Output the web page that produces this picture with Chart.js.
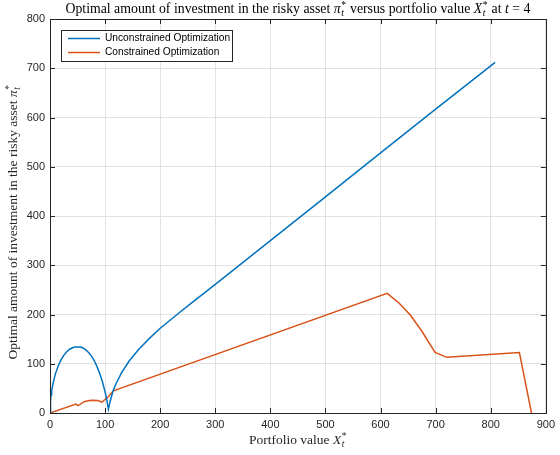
<!DOCTYPE html>
<html>
<head>
<meta charset="utf-8">
<script src="https://cdn.jsdelivr.net/npm/chart.js@4.4.0/dist/chart.umd.min.js"></script>
<style>
  body { margin: 0; background: #fff; }
  canvas { display: block; }
</style>
</head>
<body>
<canvas id="pi-chart" width="560" height="455"></canvas>
<script>
// Portfolio value X_t* and optimal amount in the risky asset pi_t*
const unconX = [0, 1, 2, 3, 5, 7, 10, 15, 20, 25, 30, 35, 40, 45, 50, 55, 60, 65, 70, 75, 80, 85, 90, 95, 100, 103, 106,
  108, 110, 114, 120, 130, 144, 160, 180, 200, 234, 260, 300, 400, 500, 600, 700, 808];
const unconY = [0, 27, 37, 45, 57, 67, 80, 96, 108, 117, 124, 129, 132, 134, 134, 134, 132, 128, 123, 116, 107, 95, 81, 64, 43, 27, 8,
  18, 27, 43, 60, 82, 106, 128, 151, 172, 203, 226, 261, 350, 439, 528, 617, 712];

const conX = [0, 47, 51, 63, 75, 87, 94, 105, 115, 612, 633, 654, 675, 699, 720, 852, 874];
const conY = [0, 18, 15, 23.5, 26, 25.5, 22, 32, 45, 243, 224, 199, 166, 123, 113, 123, 0];

const xTicks = [0, 100, 200, 300, 400, 500, 600, 700, 800, 900];
const yTicks = [0, 100, 200, 300, 400, 500, 600, 700, 800];

const seriesNames = ['Unconstrained Optimization', 'Constrained Optimization'];
const seriesColors = ['#0072BD', '#D95319'];

const SERIF = '"Liberation Serif", "DejaVu Serif", serif';
const SANS = '"Liberation Sans", Arial, sans-serif';
const AXIS_COLOR = '#262626';

// text pieces: plain strings, or [symbol, subscript, superscript] in math italics
const titleParts = ['Optimal amount of investment in the risky asset ', ['π', 't', '*'],
  ' versus portfolio value ', ['X', 't', '*'], ' at ', ['t'], ' = 4'];
const xLabelParts = ['Portfolio value ', ['X', 't', '*']];
const yLabelParts = ['Optimal amount of investment in the risky asset ', ['π', 't', '*']];

function toPoints(xs, ys) {
  return xs.map((x, i) => ({ x: x, y: ys[i] }));
}

function partWidth(ctx, p, size) {
  if (typeof p === 'string') {
    ctx.font = size + 'px ' + SERIF;
    return ctx.measureText(p).width;
  }
  ctx.font = 'italic ' + size + 'px ' + SERIF;
  let w = ctx.measureText(p[0]).width;
  if (p.length > 1) {
    ctx.font = 'italic ' + (size * 0.7) + 'px ' + SERIF;
    const a = ctx.measureText(p[1]).width;
    ctx.font = (size * 0.7) + 'px ' + SERIF;
    const b = p[2] ? ctx.measureText(p[2]).width : 0;
    w += Math.max(a, b) + size * 0.08;
  }
  return w;
}

// draws the pieces centred on (cx, y), y being the baseline
function drawRich(ctx, parts, cx, y, size, color) {
  let total = 0;
  parts.forEach(p => { total += partWidth(ctx, p, size); });
  let x = cx - total / 2;
  ctx.fillStyle = color;
  ctx.textBaseline = 'alphabetic';
  ctx.textAlign = 'left';
  parts.forEach(p => {
    if (typeof p === 'string') {
      ctx.font = size + 'px ' + SERIF;
      ctx.fillText(p, x, y);
    } else {
      ctx.font = 'italic ' + size + 'px ' + SERIF;
      ctx.fillText(p[0], x, y);
      const bx = x + ctx.measureText(p[0]).width + size * 0.04;
      if (p[1]) {
        ctx.font = 'italic ' + (size * 0.7) + 'px ' + SERIF;
        ctx.fillText(p[1], bx, y + size * 0.22);
      }
      if (p[2]) {
        ctx.font = (size * 0.7) + 'px ' + SERIF;
        ctx.fillText(p[2], bx, y - size * 0.38);
      }
    }
    x += partWidth(ctx, p, size);
  });
}

// box, inward ticks, titles and legend in MATLAB style
const matlabAxes = {
  id: 'matlabAxes',
  afterDatasetsDraw(chart) {
    const ctx = chart.ctx;
    const a = chart.chartArea;
    const sx = chart.scales.x;
    const sy = chart.scales.y;
    ctx.save();
    ctx.strokeStyle = AXIS_COLOR;
    ctx.lineWidth = 1;
    ctx.strokeRect(Math.round(a.left) + 0.5, Math.round(a.top) + 0.5,
      Math.round(a.right - a.left), Math.round(a.bottom - a.top));
    ctx.beginPath();
    xTicks.forEach(v => {
      const px = Math.round(sx.getPixelForValue(v)) + 0.5;
      ctx.moveTo(px, a.bottom); ctx.lineTo(px, a.bottom - 5);
      ctx.moveTo(px, a.top); ctx.lineTo(px, a.top + 5);
    });
    yTicks.forEach(v => {
      const py = Math.round(sy.getPixelForValue(v)) + 0.5;
      ctx.moveTo(a.left, py); ctx.lineTo(a.left + 5, py);
      ctx.moveTo(a.right, py); ctx.lineTo(a.right - 5, py);
    });
    ctx.stroke();

    // legend
    const lx = 61.5, ly = 30.5, lw = 171, lh = 31;
    ctx.fillStyle = '#fff';
    ctx.fillRect(lx, ly, lw, lh);
    ctx.strokeStyle = AXIS_COLOR;
    ctx.strokeRect(lx, ly, lw, lh);
    chart.data.datasets.forEach((ds, i) => {
      const y = 38.5 + i * 14;
      ctx.strokeStyle = ds.borderColor;
      ctx.lineWidth = 1.5;
      ctx.beginPath();
      ctx.moveTo(68, y); ctx.lineTo(100, y);
      ctx.stroke();
      ctx.fillStyle = '#000';
      ctx.font = '10.2px ' + SANS;
      ctx.textAlign = 'left';
      ctx.textBaseline = 'middle';
      ctx.fillText(ds.label, 105, y);
    });

    // titles
    const cx = (a.left + a.right) / 2;
    drawRich(ctx, titleParts, cx, 13, 13.8, '#000');
    drawRich(ctx, xLabelParts, cx, 444, 13.5, AXIS_COLOR);
    ctx.translate(17, (a.top + a.bottom) / 2 + 6);
    ctx.rotate(-Math.PI / 2);
    drawRich(ctx, yLabelParts, 0, 0, 13.5, AXIS_COLOR);
    ctx.restore();
  }
};

const ctx = document.getElementById('pi-chart').getContext('2d');
const piChart = new Chart(ctx, {
  type: 'scatter',
  data: {
    datasets: [
      {
        label: seriesNames[0],
        data: toPoints(unconX, unconY),
        borderColor: seriesColors[0],
        backgroundColor: seriesColors[0],
        showLine: true,
        borderWidth: 1.5,
        pointRadius: 0,
        tension: 0
      },
      {
        label: seriesNames[1],
        data: toPoints(conX, conY),
        borderColor: seriesColors[1],
        backgroundColor: seriesColors[1],
        showLine: true,
        borderWidth: 1.5,
        pointRadius: 0,
        tension: 0
      }
    ]
  },
  options: {
    responsive: false,
    animation: false,
    layout: { padding: { left: 0, right: 10, top: 19, bottom: 0 } },
    plugins: {
      legend: { display: false },
      tooltip: { enabled: false }
    },
    scales: {
      x: {
        type: 'linear',
        min: 0,
        max: 900,
        afterBuildTicks: s => { s.ticks = xTicks.map(v => ({ value: v })); },
        afterFit: s => { s.height = 42; },
        grid: { color: '#e2e2e2', drawTicks: false },
        border: { display: false },
        ticks: { color: AXIS_COLOR, font: { family: SANS, size: 11 }, padding: 5 }
      },
      y: {
        type: 'linear',
        min: 0,
        max: 800,
        afterBuildTicks: s => { s.ticks = yTicks.map(v => ({ value: v })); },
        afterFit: s => { s.width = 50; },
        grid: { color: '#e2e2e2', drawTicks: false },
        border: { display: false },
        ticks: { color: AXIS_COLOR, font: { family: SANS, size: 11 }, padding: 5 }
      }
    }
  },
  plugins: [matlabAxes]
});
</script>
</body>
</html>
